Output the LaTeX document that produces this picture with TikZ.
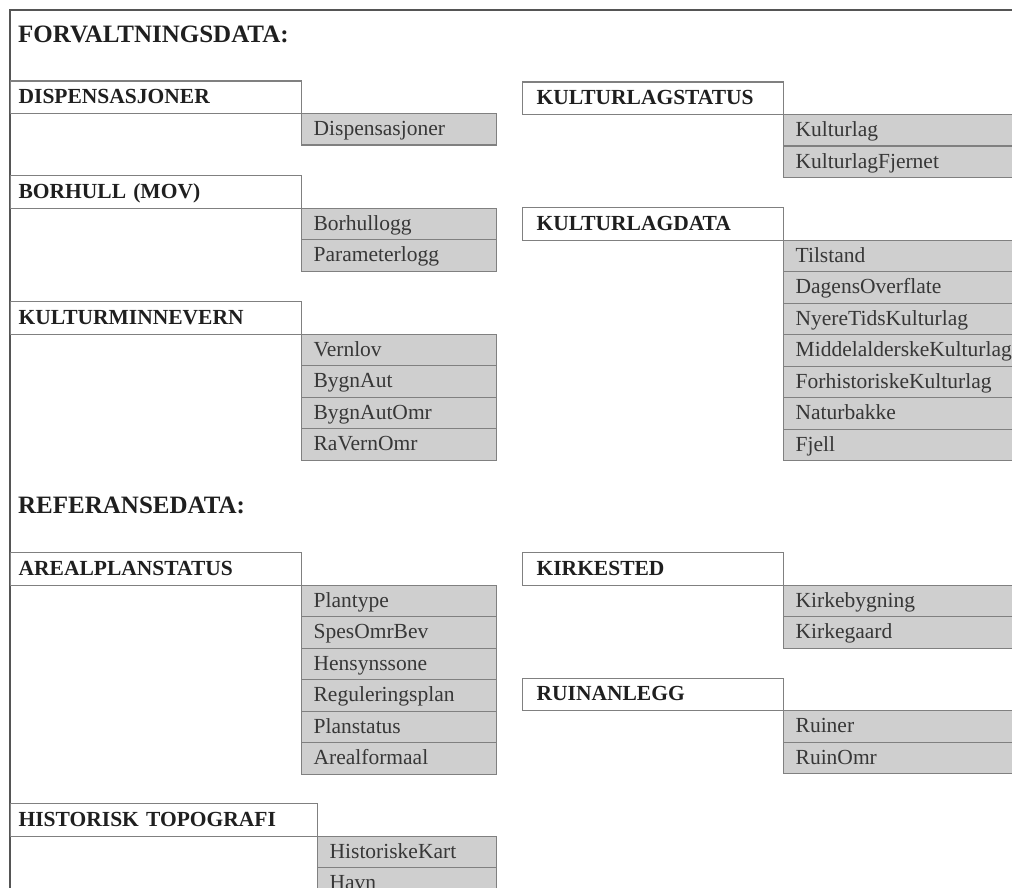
\documentclass[tikz,border=0pt]{standalone}
\usepackage{fontspec}
\setmainfont{Liberation Serif}
\definecolor{rowfill}{RGB}{207,207,207}
\definecolor{boxline}{RGB}{128,128,128}
\definecolor{framegray}{RGB}{85,85,85}
\definecolor{rowtext}{RGB}{55,55,55}
\tikzset{
  hdr/.style={draw=boxline,line width=1.3pt,anchor=north west,minimum height=32.5pt,
    inner xsep=8pt,inner ysep=0pt,text width=#1,align=left,text height=16pt,text depth=3pt,
    font=\fontsize{21.5}{24}\selectfont\bfseries,text=black!88},
  row/.style={draw=boxline,line width=1.3pt,fill=rowfill,anchor=north west,minimum height=31.5pt,
    inner xsep=12pt,inner ysep=0pt,text width=#1,align=left,text height=16pt,text depth=3pt,
    font=\fontsize{21.5}{24}\selectfont,text=rowtext},
  title/.style={anchor=base west,inner sep=0pt,font=\fontsize{25}{29}\selectfont\bfseries,text=black!88}
}
\begin{document}
\begin{tikzpicture}[x=1pt,y=-1pt]
\clip (0,0) rectangle (1012,888);
\draw[framegray,line width=2pt] (10,900) -- (10,10) -- (1030,10);

\node[title] (t1) at (18,43) {FORVALTNINGSDATA:};
\node[title] (t2) at (18,513) {REFERANSEDATA:};

% left column
\node[hdr=275pt] (h1) at (10,80.5) {DISPENSASJONER};
\node[row=171pt] (c11) at (301,113) {Dispensasjoner};

\node[hdr=275pt] (h2) at (10,175) {BORHULL (MOV)};
\node[row=171pt] (c21) at (301,207.5) {Borhullogg};
\node[row=171pt] (c22) at (301,239) {Parameterlogg};

\node[hdr=275pt] (h3) at (10,301) {KULTURMINNEVERN};
\node[row=171pt] (c31) at (301,333.5) {Vernlov};
\node[row=171pt] (c32) at (301,365) {BygnAut};
\node[row=171pt] (c33) at (301,396.5) {BygnAutOmr};
\node[row=171pt] (c34) at (301,428) {RaVernOmr};

\node[hdr=275pt] (h4) at (10,552) {AREALPLANSTATUS};
\node[row=171pt] (c41) at (301,584.5) {Plantype};
\node[row=171pt] (c42) at (301,616) {SpesOmrBev};
\node[row=171pt] (c43) at (301,647.5) {Hensynssone};
\node[row=171pt] (c44) at (301,679) {Reguleringsplan};
\node[row=171pt] (c45) at (301,710.5) {Planstatus};
\node[row=171pt] (c46) at (301,742) {Arealformaal};

\node[hdr=291pt] (h5) at (10,803) {HISTORISK TOPOGRAFI};
\node[row=155pt] (c51) at (317,835.5) {HistoriskeKart};
\node[row=155pt] (c52) at (317,867) {Havn};

% right column
\node[hdr=233pt,inner xsep=14pt] (h6) at (522,81.5) {KULTURLAGSTATUS};
\node[row=253pt] (c61) at (783,114) {Kulturlag};
\node[row=253pt] (c62) at (783,145.5) {KulturlagFjernet};

\node[hdr=233pt,inner xsep=14pt] (h7) at (522,207) {KULTURLAGDATA};
\node[row=253pt] (c71) at (783,239.5) {Tilstand};
\node[row=253pt] (c72) at (783,271) {DagensOverflate};
\node[row=253pt] (c73) at (783,302.5) {NyereTidsKulturlag};
\node[row=253pt] (c74) at (783,334) {MiddelalderskeKulturlag};
\node[row=253pt] (c75) at (783,365.5) {ForhistoriskeKulturlag};
\node[row=253pt] (c76) at (783,397) {Naturbakke};
\node[row=253pt] (c77) at (783,428.5) {Fjell};

\node[hdr=233pt,inner xsep=14pt] (h8) at (522,552) {KIRKESTED};
\node[row=253pt] (c81) at (783,584.5) {Kirkebygning};
\node[row=253pt] (c82) at (783,616) {Kirkegaard};

\node[hdr=233pt,inner xsep=14pt] (h9) at (522,677.5) {RUINANLEGG};
\node[row=253pt] (c91) at (783,710) {Ruiner};
\node[row=253pt] (c92) at (783,741.5) {RuinOmr};
\end{tikzpicture}
\end{document}
